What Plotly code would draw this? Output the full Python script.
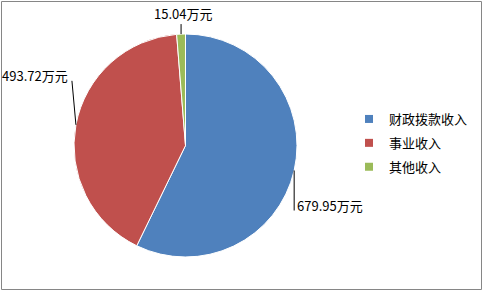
import math
import plotly.graph_objects as go

# ---- data ----
categories = ["财政拨款收入", "事业收入", "其他收入"]
values = [679.95, 493.72, 15.04]
value_labels = ["679.95万元", "493.72万元", "15.04万元"]
colors = ["#4F81BD", "#C0504D", "#9BBB59"]

# ---- layout constants (pixels) ----
W, H = 483, 291
cx, cy, r = 185.5, 145.5, 111.5
FONT = "Noto Sans CJK SC, Noto Sans, sans-serif"

def px2x(px):
    return px / W

def py2y(py):
    return 1 - py / H

fig = go.Figure()
fig.add_trace(go.Pie(
    labels=categories,
    values=values,
    sort=False,
    direction="clockwise",
    rotation=0,
    marker=dict(colors=colors, line=dict(color="#FFFFFF", width=1)),
    textinfo="none",
    showlegend=False,
    domain=dict(x=[px2x(cx - r), px2x(cx + r)], y=[py2y(cy + r), py2y(cy - r)]),
))

# legend via dummy traces (small square markers)
for i, (cat, col) in enumerate(zip(categories, colors)):
    fig.add_trace(go.Scatter(
        x=[None], y=[None], mode="markers", name=cat,
        marker=dict(symbol="square", size=8, color=col),
        legendgroup=f"g{i}", showlegend=True,
    ))

# leader lines + labels computed from slice angles
total = sum(values)
cum = 0.0
# per-slice label style: (line dx, line dy, text dx, text dy, xanchor)
styles = [
    (0, 40, 1, 35, "left"),
    (-4, -44, -6, -49, "right"),
    (0, -10, 2, -21, "center"),
]
shapes = []
annotations = []
for v, lab, st in zip(values, value_labels, styles):
    mid = (cum + v / 2) / total
    cum += v
    th = 2 * math.pi * mid
    ax = cx + r * math.sin(th)
    ay = cy - r * math.cos(th)
    ldx, ldy, tdx, tdy, xa = st
    shapes.append(dict(type="line", xref="paper", yref="paper",
                       x0=px2x(ax), y0=py2y(ay), x1=px2x(ax + ldx), y1=py2y(ay + ldy),
                       line=dict(color="#000000", width=1)))
    annotations.append(dict(x=px2x(ax + tdx), y=py2y(ay + tdy), xref="paper", yref="paper",
                            text=lab, showarrow=False, xanchor=xa, yanchor="middle",
                            font=dict(family=FONT, size=13, color="#000000")))

# outer chart border
shapes.append(dict(type="rect", xref="paper", yref="paper", x0=px2x(1.5), y0=py2y(289.5),
                   x1=px2x(481.5), y1=py2y(1.5), line=dict(color="#868686", width=1)))

fig.update_layout(
    width=W, height=H,
    margin=dict(l=0, r=0, t=0, b=0),
    paper_bgcolor="#FFFFFF", plot_bgcolor="#FFFFFF",
    xaxis=dict(visible=False), yaxis=dict(visible=False),
    shapes=shapes, annotations=annotations,
    showlegend=True,
    legend=dict(x=px2x(349), y=py2y(104), xanchor="left", yanchor="top",
                font=dict(family=FONT, size=13, color="#000000"),
                traceorder="grouped", tracegroupgap=4,
                itemclick=False, itemdoubleclick=False, bgcolor="rgba(0,0,0,0)"),
    font=dict(family=FONT),
)

fig.write_html("out.html")
